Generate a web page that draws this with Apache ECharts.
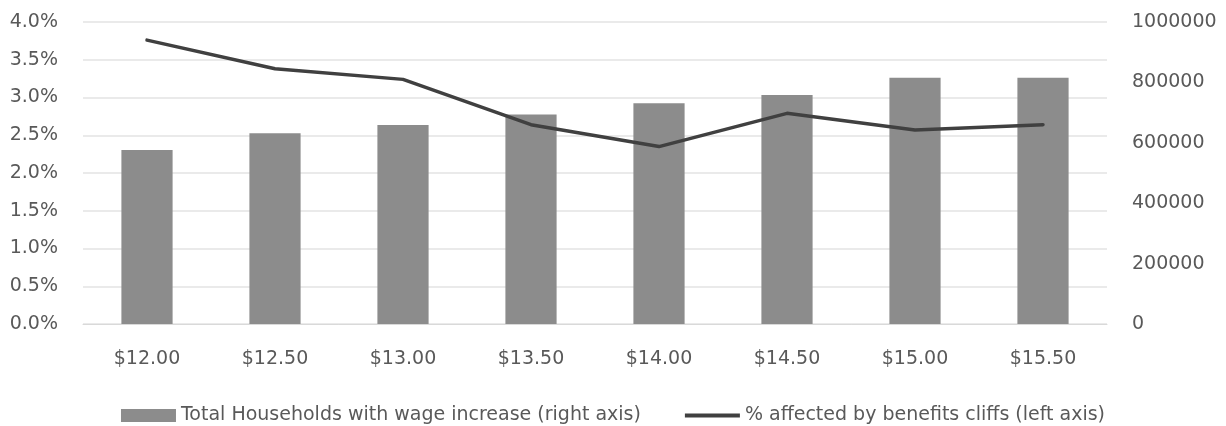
<!DOCTYPE html>
<html>
<head>
<meta charset="utf-8">
<script src="https://cdn.jsdelivr.net/npm/echarts@6/dist/echarts.min.js"></script>
<style>
  html, body { margin: 0; padding: 0; background: #fff; }
  #chart { width: 1226px; height: 426px; }
</style>
</head>
<body>
<div id="chart"></div>
<script>
// wage levels on the x axis
const wages = ['$12.00', '$12.50', '$13.00', '$13.50', '$14.00', '$14.50', '$15.00', '$15.50'];
// households getting a raise (right axis)
const households = [576000, 632000, 659000, 694000, 731000, 758000, 815000, 815000];
// share hit by benefits cliffs, in percent (left axis)
const pctAffected = [3.76, 3.38, 3.24, 2.64, 2.35, 2.79, 2.57, 2.64];

const font = '"DejaVu Sans", sans-serif';
const textColor = '#595959';
const fs = 19;

const chart = echarts.init(document.getElementById('chart'));
chart.setOption({
  animation: false,
  textStyle: { fontFamily: font },
  grid: { left: 83, right: 119, top: 22, bottom: 102 },
  legend: {
    top: 401,
    left: 'center',
    itemGap: 44,
    itemWidth: 55,
    itemHeight: 13,
    textStyle: { color: textColor, fontSize: fs, fontFamily: font },
    data: [
      { name: 'Total Households with wage increase (right axis)', icon: 'rect' },
      {
        name: '% affected by benefits cliffs (left axis)',
        icon: 'path://M0,0 L55,0 L55,4 L0,4 Z',
        itemStyle: { color: '#404040' }
      }
    ]
  },
  xAxis: {
    type: 'category',
    data: wages,
    axisLine: { show: true, lineStyle: { color: '#d9d9d9' } },
    axisTick: { show: false },
    axisLabel: { color: textColor, fontSize: fs, margin: 26 }
  },
  yAxis: [
    {
      type: 'value',
      min: 0, max: 4, interval: 0.5,
      axisLabel: {
        color: textColor, fontSize: fs, margin: 25,
        formatter: v => v.toFixed(1) + '%'
      },
      splitLine: { lineStyle: { color: '#e3e3e3', width: 1.5 } },
      axisLine: { show: false },
      axisTick: { show: false }
    },
    {
      type: 'value',
      min: 0, max: 1000000, interval: 200000,
      position: 'right',
      axisLabel: { color: textColor, fontSize: fs, margin: 25, formatter: v => String(v) },
      splitLine: { show: false },
      axisLine: { show: false },
      axisTick: { show: false }
    }
  ],
  series: [
    {
      name: 'Total Households with wage increase (right axis)',
      type: 'bar',
      yAxisIndex: 1,
      data: households,
      barWidth: '40%',
      itemStyle: { color: '#8c8c8c' }
    },
    {
      name: '% affected by benefits cliffs (left axis)',
      type: 'line',
      yAxisIndex: 0,
      data: pctAffected,
      showSymbol: false,
      symbol: 'none',
      lineStyle: { color: '#404040', width: 3.5, join: 'round', cap: 'round' },
      itemStyle: { color: '#404040' }
    }
  ]
});
</script>
</body>
</html>
